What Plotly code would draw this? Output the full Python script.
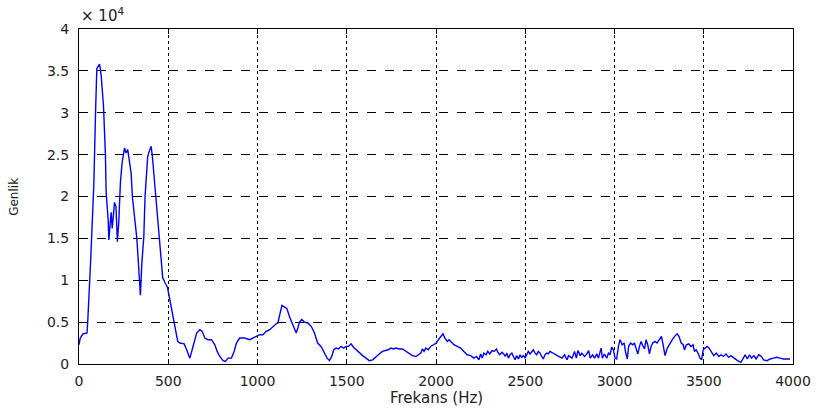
import plotly.graph_objects as go

# Amplitude spectrum (Genlik, in units of 1e4) versus frequency (Hz)
frekans = [
    0, 7, 22, 45, 50, 60, 65, 74, 83, 93, 100, 115, 124, 137, 148, 152, 164, 167,
    180, 186, 199, 207, 215, 223, 232, 242, 255, 264, 273, 281, 292, 299, 310, 324,
    333, 338, 344, 352, 363, 370, 378, 385, 392, 404, 411, 422, 431, 441, 450, 459,
    469, 482, 495, 506, 519, 532, 541, 553, 565, 589, 603, 621, 634, 645, 659, 677,
    690, 705, 723, 742, 761, 774, 789, 807, 820, 835, 854, 869, 882, 900, 928, 956,
    975, 994, 1012, 1030, 1049, 1068, 1086, 1105, 1114, 1124, 1137, 1152, 1165, 1180,
    1194, 1207, 1217, 1226, 1235, 1248, 1263, 1282, 1301, 1319, 1337, 1356, 1375, 1390,
    1403, 1416, 1427, 1440, 1453, 1468, 1483, 1496, 1509, 1524, 1538, 1552, 1570, 1589,
    1608, 1626, 1645, 1663, 1682, 1700, 1719, 1732, 1747, 1762, 1775, 1793, 1812, 1831,
    1849, 1868, 1887, 1901, 1915, 1924, 1933, 1943, 1957, 1970, 1989, 2002, 2013, 2026,
    2039, 2050, 2063, 2073, 2088, 2100, 2119, 2138, 2156, 2175, 2194, 2212, 2227, 2240,
    2250, 2259, 2268, 2281, 2290, 2301, 2314, 2325, 2339, 2346, 2357, 2370, 2379, 2388,
    2397, 2406, 2415, 2425, 2434, 2443, 2452, 2462, 2471, 2480, 2490, 2499, 2508, 2517,
    2527, 2536, 2545, 2555, 2564, 2573, 2583, 2592, 2601, 2610, 2620, 2629, 2638, 2648,
    2668, 2687, 2706, 2720, 2734, 2743, 2762, 2776, 2786, 2795, 2808, 2817, 2832, 2845,
    2855, 2864, 2877, 2888, 2901, 2910, 2925, 2932, 2943, 2957, 2966, 2975, 2984, 2994,
    3003, 3012, 3022, 3031, 3043, 3054, 3061, 3072, 3079, 3090, 3103, 3112, 3123, 3131,
    3140, 3149, 3158, 3168, 3177, 3186, 3196, 3205, 3214, 3227, 3238, 3250, 3263, 3274,
    3283, 3296, 3311, 3324, 3337, 3351, 3361, 3374, 3385, 3392, 3403, 3416, 3429, 3440,
    3448, 3457, 3470, 3479, 3488, 3497, 3507, 3520, 3530, 3543, 3556, 3570, 3585, 3597,
    3610, 3625, 3639, 3652, 3670, 3689, 3708, 3720, 3732, 3744, 3757, 3768, 3781, 3793,
    3808, 3823, 3835, 3854, 3872, 3891, 3909, 3928, 3946, 3965, 3983,
]

genlik_e4 = [
    0.23, 0.31, 0.36, 0.37, 0.55, 0.90, 1.22, 1.68, 2.14, 3.03, 3.53, 3.58, 3.45, 3.09,
    2.50, 2.05, 1.70, 1.48, 1.81, 1.62, 1.93, 1.88, 1.46, 1.70, 2.17, 2.41, 2.58, 2.52,
    2.56, 2.44, 2.28, 2.00, 1.76, 1.50, 1.20, 0.98, 0.82, 1.20, 1.52, 2.00, 2.28, 2.48,
    2.53, 2.60, 2.48, 2.20, 2.00, 1.76, 1.48, 1.20, 1.03, 0.97, 0.92, 0.80, 0.64, 0.50,
    0.37, 0.27, 0.25, 0.24, 0.17, 0.07, 0.17, 0.25, 0.37, 0.41, 0.39, 0.31, 0.29, 0.29,
    0.23, 0.15, 0.09, 0.04, 0.03, 0.07, 0.07, 0.15, 0.25, 0.31, 0.31, 0.29, 0.31, 0.33,
    0.35, 0.35, 0.39, 0.41, 0.45, 0.48, 0.49, 0.59, 0.70, 0.68, 0.66, 0.56, 0.49, 0.43,
    0.37, 0.43, 0.50, 0.53, 0.50, 0.49, 0.45, 0.37, 0.25, 0.21, 0.14, 0.07, 0.04, 0.09,
    0.17, 0.19, 0.18, 0.21, 0.19, 0.21, 0.21, 0.24, 0.20, 0.17, 0.13, 0.10, 0.07, 0.04,
    0.05, 0.09, 0.12, 0.15, 0.16, 0.17, 0.19, 0.18, 0.19, 0.18, 0.18, 0.15, 0.12, 0.10,
    0.09, 0.11, 0.13, 0.18, 0.15, 0.19, 0.17, 0.21, 0.23, 0.25, 0.29, 0.33, 0.36, 0.31,
    0.27, 0.29, 0.25, 0.23, 0.21, 0.19, 0.15, 0.11, 0.10, 0.07, 0.09, 0.05, 0.12, 0.07,
    0.13, 0.11, 0.15, 0.12, 0.16, 0.15, 0.18, 0.14, 0.11, 0.14, 0.12, 0.09, 0.13, 0.07,
    0.11, 0.13, 0.09, 0.05, 0.10, 0.06, 0.11, 0.08, 0.10, 0.07, 0.11, 0.15, 0.12, 0.15,
    0.17, 0.13, 0.11, 0.15, 0.13, 0.09, 0.06, 0.11, 0.13, 0.12, 0.15, 0.14, 0.11, 0.09,
    0.07, 0.11, 0.05, 0.10, 0.07, 0.15, 0.07, 0.16, 0.10, 0.13, 0.09, 0.12, 0.16, 0.07,
    0.11, 0.07, 0.12, 0.07, 0.19, 0.07, 0.12, 0.07, 0.13, 0.11, 0.20, 0.17, 0.07, 0.06,
    0.21, 0.29, 0.23, 0.25, 0.15, 0.06, 0.21, 0.25, 0.23, 0.25, 0.17, 0.12, 0.21, 0.27,
    0.22, 0.18, 0.29, 0.23, 0.12, 0.21, 0.25, 0.27, 0.25, 0.29, 0.33, 0.21, 0.10, 0.19,
    0.25, 0.29, 0.33, 0.36, 0.33, 0.25, 0.23, 0.17, 0.23, 0.24, 0.21, 0.23, 0.15, 0.17,
    0.12, 0.07, 0.05, 0.17, 0.19, 0.21, 0.19, 0.15, 0.10, 0.13, 0.09, 0.11, 0.09, 0.12,
    0.08, 0.10, 0.07, 0.04, 0.02, 0.07, 0.11, 0.06, 0.11, 0.07, 0.10, 0.06, 0.11, 0.09,
    0.05, 0.04, 0.06, 0.07, 0.08, 0.07, 0.06, 0.06, 0.06,
]

scale = 1e4
genlik = [v * scale for v in genlik_e4]

x_ticks = [0, 500, 1000, 1500, 2000, 2500, 3000, 3500, 4000]
y_tick_labels = ["0", "0.5", "1", "1.5", "2", "2.5", "3", "3.5", "4"]
y_ticks = [float(t) * scale for t in y_tick_labels]

font_family = "DejaVu Sans"

fig = go.Figure(
    go.Scatter(
        x=frekans,
        y=genlik,
        mode="lines",
        line=dict(color="rgb(0,0,255)", width=1.4),
        hoverinfo="x+y",
    )
)

axis_common = dict(
    showline=True,
    linecolor="black",
    linewidth=1,
    mirror="ticks",
    ticks="inside",
    ticklen=5,
    tickcolor="black",
    zeroline=False,
    showgrid=True,
    gridcolor="black",
    gridwidth=1,
    tickfont=dict(family=font_family, size=14, color="#222"),
)

fig.update_xaxes(
    range=[0, 4000],
    tickvals=x_ticks,
    ticktext=[str(t) for t in x_ticks],
    griddash="dot",
    ticklabelstandoff=4,
    **axis_common,
)
fig.update_yaxes(
    range=[0, 4 * scale],
    tickvals=y_ticks,
    ticktext=y_tick_labels,
    griddash="dash",
    ticklabelstandoff=6,
    **axis_common,
)

fig.update_layout(
    width=823,
    height=409,
    margin=dict(l=79, r=28, t=29, b=45),
    paper_bgcolor="white",
    plot_bgcolor="white",
    showlegend=False,
    annotations=[
        dict(
            text="Frekans (Hz)",
            xref="paper", yref="paper",
            x=0.5, y=0.0, yanchor="top", xanchor="center",
            yshift=-23,
            showarrow=False,
            font=dict(family=font_family, size=15, color="#222"),
        ),
        dict(
            text="Genlik",
            xref="paper", yref="paper",
            x=-0.092, y=0.5, xanchor="center", yanchor="middle",
            textangle=-90,
            showarrow=False,
            font=dict(family=font_family, size=12, color="#222"),
        ),
        dict(
            text="× 10<sup>4</sup>",
            xref="paper", yref="paper",
            x=0.0, y=1.0, xanchor="left", yanchor="bottom",
            yshift=2,
            showarrow=False,
            font=dict(family=font_family, size=15, color="#222"),
        ),
    ],
)

fig.write_html("out.html")
